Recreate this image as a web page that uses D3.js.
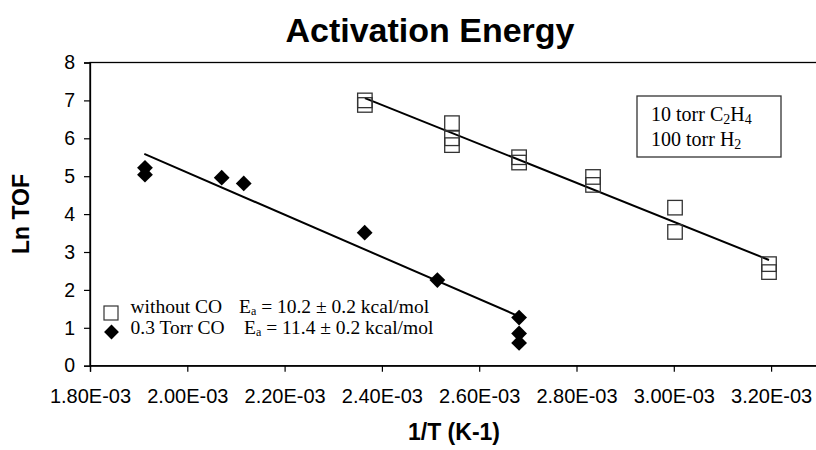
<!DOCTYPE html>
<html><head><meta charset="utf-8">
<script src="https://cdn.jsdelivr.net/npm/d3@7"></script>
<style>
html,body{margin:0;padding:0;background:#fff;}
svg{display:block;}
</style></head>
<body>
<svg id="chart" width="816" height="450"></svg>
<script>
// ---- data ----
const xTickValues = [0.0018, 0.0020, 0.0022, 0.0024, 0.0026, 0.0028, 0.0030, 0.0032];
const xTickLabels = ["1.80E-03","2.00E-03","2.20E-03","2.40E-03","2.60E-03","2.80E-03","3.00E-03","3.20E-03"];
const yTickValues = [0,1,2,3,4,5,6,7,8];

// without CO (open squares)
const noCO_x = [0.002365,0.002365,0.002544,0.002544,0.002544,0.002682,0.002682,0.002834,0.002834,0.0030025,0.0030025,0.0031957,0.0031957];
const noCO_y = [7.0,6.88,6.4,6.0,5.82,5.5,5.36,4.98,4.77,4.17,3.53,2.68,2.47];
// 0.3 Torr CO (filled diamonds)
const co_x = [0.001913,0.001913,0.0020707,0.002116,0.0023646,0.002514,0.002682,0.002682,0.002682];
const co_y = [5.22,5.04,4.96,4.81,3.51,2.26,1.27,0.85,0.6];
// fitted lines (endpoints)
const fitNoCO_x = [0.002365, 0.0031957];
const fitNoCO_y = [7.06, 2.79];
const fitCO_x = [0.0019116, 0.002684];
const fitCO_y = [5.59, 1.29];

const svg = d3.select("#chart");
const x = d3.scaleLinear().domain([0.0018, 0.0033]).range([90, 819.75]);
const y = d3.scaleLinear().domain([0, 8]).range([365.7, 62.5]);
const sans = "'Liberation Sans', Arial, sans-serif";
const serif = "'Liberation Serif', 'Times New Roman', serif";

// title
svg.append("text").attr("x", 430).attr("y", 42).attr("text-anchor","middle")
  .style("font-family",sans).style("font-weight","bold")
  .style("font-size","34px").text("Activation Energy");

// frame (top + right; right is beyond the picture)
svg.append("rect").attr("x", x(0.0018)).attr("y", y(8))
  .attr("width", x(0.0033)-x(0.0018)).attr("height", y(0)-y(8))
  .attr("fill","none").attr("stroke","#000").attr("stroke-width",1.3);

// axes
const gx = svg.append("g").attr("transform",`translate(0,${y(0)})`)
  .call(d3.axisBottom(x).tickValues(xTickValues).tickSize(6).tickPadding(17)
    .tickFormat((d,i)=>xTickLabels[i]));
gx.select(".domain").attr("stroke","#000").attr("stroke-width",1.3);
gx.selectAll(".tick line").attr("stroke","#000").attr("stroke-width",1.2);
gx.selectAll(".tick text").style("font-family",sans).style("font-size","20px").attr("fill","#000");

const gy = svg.append("g").attr("transform",`translate(${x(0.0018)},0)`)
  .call(d3.axisLeft(y).tickValues(yTickValues).tickSize(6).tickPadding(9).tickFormat(d3.format("d")));
gy.select(".domain").attr("stroke","#000").attr("stroke-width",1.3);
gy.selectAll(".tick line").attr("stroke","#000").attr("stroke-width",1.2);
gy.selectAll(".tick text").style("font-family",sans).style("font-size","19.5px").attr("fill","#000");

// axis titles
svg.append("text").attr("x", 454).attr("y", 440).attr("text-anchor","middle")
  .style("font-family",sans).style("font-weight","bold")
  .style("font-size","23px").text("1/T (K-1)");
svg.append("text").attr("transform","translate(29,214) rotate(-90)").attr("text-anchor","middle")
  .style("font-family",sans).style("font-weight","bold")
  .style("font-size","23px").text("Ln TOF");

// fit lines
const line = d3.line().x(d=>x(d[0])).y(d=>y(d[1]));
svg.append("path").datum(d3.zip(fitNoCO_x, fitNoCO_y)).attr("d", line)
  .attr("fill","none").attr("stroke","#000").attr("stroke-width",2);
svg.append("path").datum(d3.zip(fitCO_x, fitCO_y)).attr("d", line)
  .attr("fill","none").attr("stroke","#000").attr("stroke-width",2);

// markers
const sq = 14.5;
svg.append("g").selectAll("rect").data(d3.zip(noCO_x, noCO_y)).join("rect")
  .attr("x", d=>x(d[0])-sq/2).attr("y", d=>y(d[1])-sq/2)
  .attr("width", sq).attr("height", sq)
  .attr("fill","none").attr("stroke","#333").attr("stroke-width",1.3);

svg.append("g").selectAll("path").data(d3.zip(co_x, co_y)).join("path")
  .attr("transform", d=>`translate(${x(d[0])},${y(d[1])}) rotate(45)`)
  .attr("d", d3.symbol().type(d3.symbolSquare).size(125)())
  .attr("fill","#000");

// legend
svg.append("rect").attr("x",104).attr("y",306).attr("width",14).attr("height",14)
  .attr("fill","#fff").attr("stroke","#333").attr("stroke-width",1.2);
svg.append("path").attr("transform","translate(111.5,332) rotate(45)")
  .attr("d", d3.symbol().type(d3.symbolSquare).size(110)()).attr("fill","#000");

function legendLine(xa, xb, yb, name, val){
  svg.append("text").attr("x",xa).attr("y",yb).style("font-family",serif).style("font-size","19.5px").text(name);
  const t = svg.append("text").attr("x",xb).attr("y",yb).style("font-family",serif).style("font-size","19.5px");
  t.append("tspan").text("E");
  t.append("tspan").attr("dy",2).style("font-size","12px").text("a");
  t.append("tspan").attr("dy",-2).text(" = " + val + " \u00b1 0.2 kcal/mol");
}
legendLine(130.5, 239, 313, "without CO", "10.2");
legendLine(130.5, 244, 334, "0.3 Torr CO", "11.4");

// annotation box
svg.append("rect").attr("x",637).attr("y",96).attr("width",144).attr("height",61)
  .attr("fill","#fff").attr("stroke","#333").attr("stroke-width",1.3);
const a1 = svg.append("text").attr("x",651).attr("y",121).style("font-family",serif).style("font-size","20px");
a1.append("tspan").text("10 torr C");
a1.append("tspan").attr("dy",3).style("font-size","14px").text("2");
a1.append("tspan").attr("dy",-3).text("H");
a1.append("tspan").attr("dy",3).style("font-size","14px").text("4");
const a2 = svg.append("text").attr("x",651).attr("y",146).style("font-family",serif).style("font-size","20px");
a2.append("tspan").text("100 torr H");
a2.append("tspan").attr("dy",3).style("font-size","14px").text("2");
</script>
</body></html>
